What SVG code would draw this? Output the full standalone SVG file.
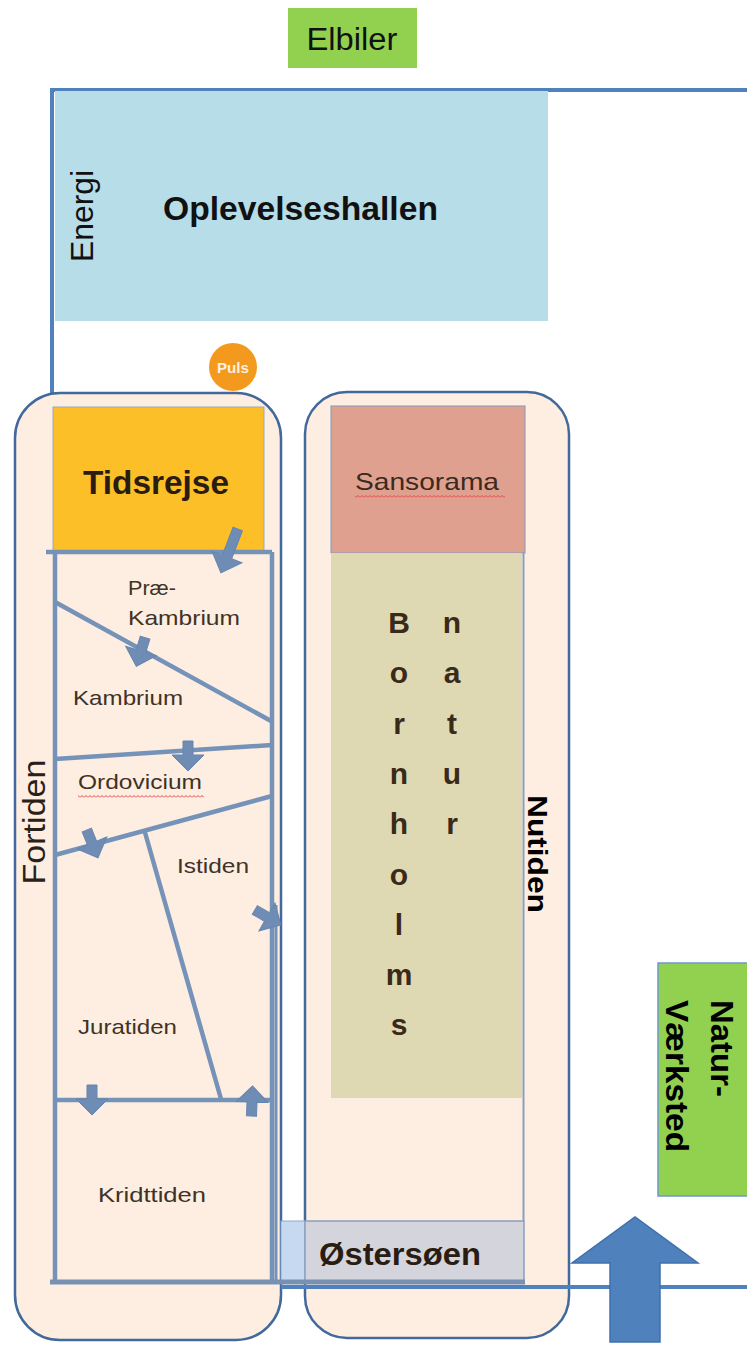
<svg xmlns="http://www.w3.org/2000/svg" width="747" height="1345" viewBox="0 0 747 1345">
<style>
.t{font-family:"Liberation Sans",Arial,sans-serif}
.per{font-size:21px;fill:#3f3226}
.grid{stroke:#7592b8;stroke-width:4.5;fill:none}
.arr{fill:#6f8cb4;stroke:#6585b0;stroke-width:1}
.box{fill:#fdeee1;stroke:#41699b;stroke-width:2.5}
.bl{font-size:30px;font-weight:bold;fill:#3a2a1a;text-anchor:middle}
</style>
<defs>
<polygon id="ah" points="-5,-14 5,-14 5,0 16,0 0,16 -16,0 -5,0"/>
<pattern id="wavy" width="4" height="3" patternUnits="userSpaceOnUse">
<path d="M0,2.5 L2,0.5 L4,2.5" stroke="#e04545" fill="none" stroke-width="1"/>
</pattern>
</defs>
<rect width="747" height="1345" fill="#ffffff"/>

<g id="frame">
<path d="M747,90 H52 V560" fill="none" stroke="#4f81bd" stroke-width="4"/>
</g>

<g id="elbiler">
<rect x="288" y="8" width="129" height="60" fill="#92d050"/>
<text class="t" x="352" y="50" font-size="31" text-anchor="middle" textLength="91" lengthAdjust="spacingAndGlyphs" fill="#111">Elbiler</text>
</g>

<g id="oplevelseshallen">
<rect x="55" y="91" width="493" height="230" fill="#b7dde8"/>
<text class="t" x="163" y="220" font-size="33" font-weight="bold" textLength="275" lengthAdjust="spacingAndGlyphs" fill="#111">Oplevelseshallen</text>
<text class="t" transform="translate(93,216) rotate(-90)" font-size="31" text-anchor="middle" textLength="92" lengthAdjust="spacingAndGlyphs" fill="#111">Energi</text>
</g>

<g id="puls">
<circle cx="233" cy="367" r="24" fill="#f39a1e"/>
<text class="t" x="233" y="373" font-size="14" font-weight="bold" text-anchor="middle" textLength="32" lengthAdjust="spacingAndGlyphs" fill="#fdf0e0">Puls</text>
</g>

<g id="fortiden">
<rect class="box" x="15" y="393" width="266" height="947" rx="45" ry="45"/>
<rect x="53" y="407" width="211" height="145" fill="#fcbf27" stroke="#9aa8bf" stroke-width="1"/>
<text class="t" x="83" y="494" font-size="34" font-weight="bold" textLength="146" lengthAdjust="spacingAndGlyphs" fill="#2a1c10">Tidsrejse</text>
<text class="t" transform="translate(45,822) rotate(-90)" font-size="32" text-anchor="middle" textLength="125" lengthAdjust="spacingAndGlyphs" fill="#2a2018">Fortiden</text>
<text class="t per" x="128" y="595" textLength="48" lengthAdjust="spacingAndGlyphs">Præ-</text>
<text class="t per" x="128" y="625" textLength="112" lengthAdjust="spacingAndGlyphs">Kambrium</text>
<text class="t per" x="73" y="705" textLength="110" lengthAdjust="spacingAndGlyphs">Kambrium</text>
<text class="t per" x="78" y="789" textLength="124" lengthAdjust="spacingAndGlyphs">Ordovicium</text>
<rect x="78" y="795" width="126" height="3" fill="url(#wavy)"/>
<text class="t per" x="177" y="873" textLength="72" lengthAdjust="spacingAndGlyphs">Istiden</text>
<text class="t per" x="78" y="1034" textLength="99" lengthAdjust="spacingAndGlyphs">Juratiden</text>
<text class="t per" x="98" y="1202" textLength="108" lengthAdjust="spacingAndGlyphs">Kridttiden</text>
</g>

<g id="nutiden">
<rect class="box" x="305" y="392" width="264" height="946" rx="42" ry="42"/>
<rect x="331" y="406" width="194" height="147" fill="#e0a08f" stroke="#7f98bd" stroke-width="1"/>
<text class="t" x="355" y="490" font-size="24" textLength="144" lengthAdjust="spacingAndGlyphs" fill="#3a2a20">Sansorama</text>
<rect x="355" y="495" width="150" height="3" fill="url(#wavy)"/>
<rect x="331" y="553" width="191" height="545" fill="#ded9b3"/>
<line x1="523.5" y1="553" x2="523.5" y2="1221" stroke="#8a9fbd" stroke-width="2"/>
<text class="t bl" x="399" y="633">B</text>
<text class="t bl" x="399" y="683">o</text>
<text class="t bl" x="399" y="734">r</text>
<text class="t bl" x="399" y="784">n</text>
<text class="t bl" x="399" y="834">h</text>
<text class="t bl" x="399" y="885">o</text>
<text class="t bl" x="399" y="935">l</text>
<text class="t bl" x="399" y="985">m</text>
<text class="t bl" x="399" y="1035">s</text>
<text class="t bl" x="452" y="633">n</text>
<text class="t bl" x="452" y="683">a</text>
<text class="t bl" x="452" y="734">t</text>
<text class="t bl" x="452" y="784">u</text>
<text class="t bl" x="452" y="834">r</text>
<text class="t" transform="translate(528,795) rotate(90)" font-size="27" font-weight="bold" textLength="118" lengthAdjust="spacingAndGlyphs" fill="#000">Nutiden</text>
</g>

<g id="ostersoen">
<rect x="281" y="1221" width="24" height="61" fill="#c6d9f0" stroke="#8eaad0" stroke-width="1"/>
<rect x="305" y="1221" width="219" height="61" fill="#d4d4dc" stroke="#8a9fbd" stroke-width="1.5"/>
<text class="t" x="319" y="1265" font-size="31" font-weight="bold" textLength="162" lengthAdjust="spacingAndGlyphs" fill="#2a1c10">Østersøen</text>
</g>

<g id="naturvaerksted">
<rect x="658" y="963" width="100" height="233" fill="#92d050" stroke="#6e98cf" stroke-width="1.5"/>
<text class="t" transform="translate(711,1000) rotate(90)" font-size="32" font-weight="bold" textLength="97" lengthAdjust="spacingAndGlyphs" fill="#000">Natur-</text>
<text class="t" transform="translate(666,1000) rotate(90)" font-size="32" font-weight="bold" textLength="152" lengthAdjust="spacingAndGlyphs" fill="#000">Værksted</text>
</g>

<g id="connectors">
<line x1="281" y1="1287" x2="747" y2="1287" stroke="#4f81bd" stroke-width="4"/>
<path class="grid" d="M46,552 H272 M55,552 V1282 M272,552 V1282"/>
<line x1="276" y1="905" x2="276" y2="1282" stroke="#7592b8" stroke-width="3"/>
<path class="grid" d="M55,602 L271,721 M55,759 L272,745 M55,855 L272,796 M144,829 L221,1099 M55,1100 H272"/>
<line x1="50" y1="1282" x2="525" y2="1282" stroke="#7890b2" stroke-width="5"/>
<polygon class="arr" transform="translate(227,557) rotate(21)" points="-5,-30 5,-30 5,0 16,0 0,17 -16,0 -5,0"/>
<use href="#ah" class="arr" transform="translate(141,651) rotate(17)"/>
<use href="#ah" class="arr" transform="translate(188,755)"/>
<use href="#ah" class="arr" transform="translate(92,843) rotate(-22)"/>
<use href="#ah" class="arr" transform="translate(267,917) rotate(-60)"/>
<use href="#ah" class="arr" transform="translate(92,1099)"/>
<use href="#ah" class="arr" transform="translate(252,1102) rotate(182)"/>
<polygon points="610,1342 610,1263 572,1263 635,1217 698,1263 660,1263 660,1342" fill="#4f81bd" stroke="#3f70ad" stroke-width="1.5"/>
</g>
</svg>
